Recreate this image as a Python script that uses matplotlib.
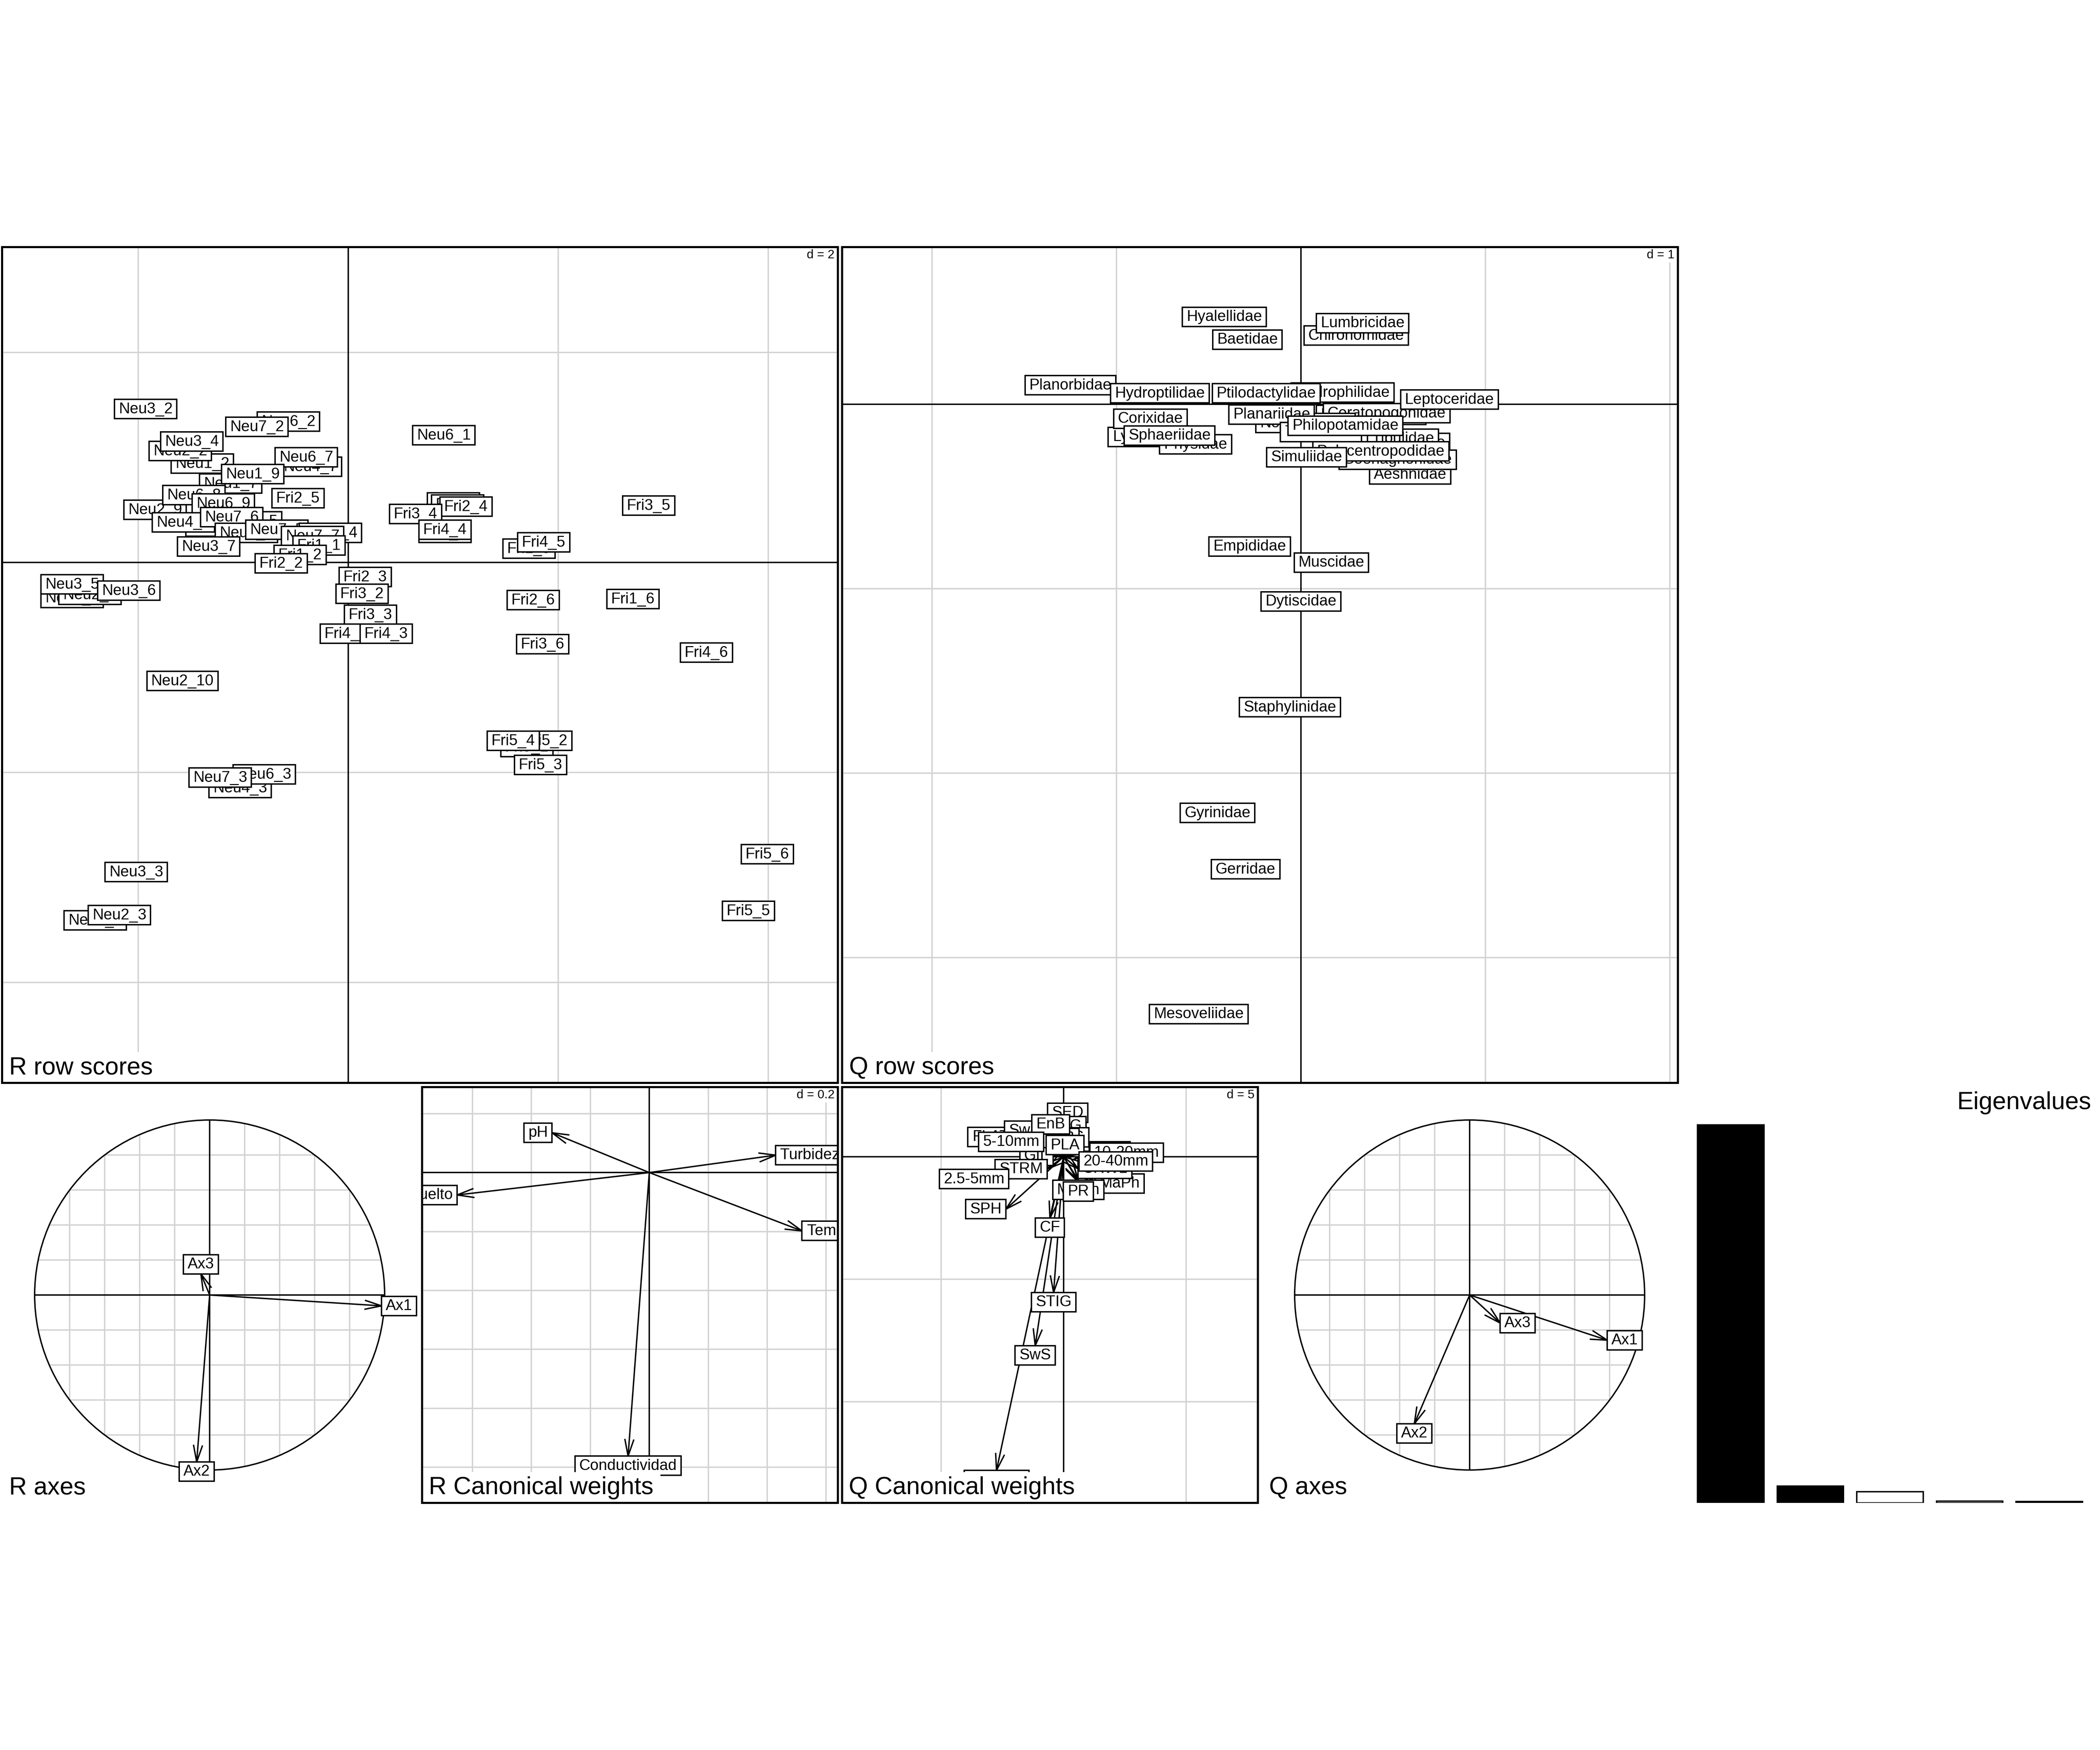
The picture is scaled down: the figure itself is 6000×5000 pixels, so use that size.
import numpy as np
import matplotlib
matplotlib.use("Agg")
import matplotlib.pyplot as plt
from matplotlib import transforms as mtrans
from matplotlib import font_manager, ft2font
from matplotlib.patches import Rectangle, Circle

plt.rcParams['font.family'] = ['Liberation Sans', 'DejaVu Sans']

# ---------------- data ----------------
# R row scores (sites)
r_labels = ["Neu6_2", "Neu7_2", "Neu3_2", "Neu1_2", "Neu2_2", "Neu3_4",
            "Neu1_7", "Neu4_7", "Neu6_7", "Neu1_9",
            "Neu2_9", "Neu6_8", "Neu6_9", "Fri2_5",
            "Neu1_5", "Neu4_6", "Neu6_5", "Neu7_6", "Neu4_5", "Neu7_5", "Neu6_4", "Neu7_7", "Neu3_7",
            "Fri1_1", "Fri1_2", "Fri2_2",
            "Neu2_6", "Neu2_5", "Neu3_5", "Neu3_6",
            "Fri2_3", "Fri3_2", "Fri3_3", "Fri4_2", "Fri4_3",
            "Neu2_10", "Neu4_3", "Neu6_3", "Neu7_3", "Neu3_3", "Neu1_3", "Neu2_3",
            "Neu6_1", "Fri1_3", "Fri1_4", "Fri2_4", "Fri3_4", "Fri3_1", "Fri4_4", "Fri3_5", "Fri1_5", "Fri4_5",
            "Fri2_6", "Fri1_6", "Fri3_6", "Fri4_6",
            "Fri5_1", "Fri5_2", "Fri5_4", "Fri5_3", "Fri5_6", "Fri5_5"]
r_x = [-0.57, -0.87, -1.93, -1.39, -1.60, -1.49,
       -1.12, -0.36, -0.40, -0.91,
       -1.84, -1.47, -1.19, -0.48,
       -1.25, -1.57, -0.93, -1.11, -0.97, -0.68, -0.17, -0.34, -1.33,
       -0.28, -0.46, -0.64,
       -2.63, -2.46, -2.63, -2.09,
       0.16, 0.13, 0.21, -0.02, 0.36,
       -1.58, -1.03, -0.80, -1.22, -2.02, -2.41, -2.18,
       0.91, 1.00, 1.04, 1.12, 0.64, 0.92, 0.92, 2.86, 1.72, 1.86,
       1.76, 2.71, 1.85, 3.41,
       1.70, 1.88, 1.57, 1.83, 3.99, 3.81]
r_y = [1.34, 1.29, 1.46, 0.94, 1.06, 1.15,
       0.75, 0.91, 1.00, 0.84,
       0.50, 0.64, 0.56, 0.61,
       0.34, 0.38, 0.39, 0.43, 0.28, 0.31, 0.28, 0.25, 0.15,
       0.16, 0.07, -0.01,
       -0.34, -0.31, -0.21, -0.27,
       -0.14, -0.30, -0.50, -0.68, -0.68,
       -1.13, -2.15, -2.02, -2.05, -2.95, -3.41, -3.36,
       1.21, 0.57, 0.55, 0.53, 0.46, 0.28, 0.31, 0.54, 0.13, 0.19,
       -0.36, -0.35, -0.78, -0.86,
       -1.76, -1.70, -1.70, -1.93, -2.78, -3.32]

# Q row scores (taxa)
q_labels = ["Hyalellidae", "Baetidae", "Chironomidae", "Lumbricidae", "Planorbidae", "Hydroptilidae",
            "Hydrophilidae", "Ptilodactylidae", "Leptohyphidae", "Ceratopogonidae", "Leptoceridae",
            "Lymnaeidae", "Physidae", "Corixidae", "Sphaeriidae",
            "Notonectidae", "Planariidae", "Tabanidae", "Elmidae", "Tipulidae", "Philopotamidae",
            "Aeshnidae", "Coenagrionidae", "Polycentropodidae", "Simuliidae",
            "Empididae", "Muscidae", "Dytiscidae", "Staphylinidae", "Gyrinidae", "Gerridae", "Mesoveliidae"]
q_x = [-0.415, -0.290, 0.300, 0.334, -1.250, -0.765,
       0.226, -0.188, 0.381, 0.465, 0.805,
       -0.795, -0.571, -0.816, -0.713,
       0.025, -0.159, 0.108, 0.632, 0.554, 0.241,
       0.592, 0.524, 0.433, 0.030,
       -0.278, 0.165, 0.000, -0.060, -0.452, -0.300, -0.554]
q_y = [0.474, 0.351, 0.372, 0.440, 0.103, 0.059,
       0.063, 0.059, -0.057, -0.049, 0.025,
       -0.177, -0.218, -0.078, -0.169,
       -0.102, -0.055, -0.150, -0.209, -0.186, -0.116,
       -0.381, -0.300, -0.256, -0.287,
       -0.771, -0.858, -1.069, -1.643, -2.216, -2.521, -3.306]

# R canonical weights (environmental variables)
rc_labels = ["pH", "Turbidez", "Temperatura", "Oxigeno_disuelto", "Conductividad"]
rc_x = [-0.330, 0.429, 0.518, -0.652, -0.072]
rc_y = [0.135, 0.059, -0.198, -0.076, -0.962]

# Q canonical weights (traits)
qc_labels = ["SHR", "GIL", "FLAT", "Sw", "SED", "TEG", "CG", "EpB", "PLA", "EnB",
             "5-10mm", "STRM", "2.5-5mm", "MaPh", "10-20mm", "CRWL", "20-40mm", "MSwn", "PR",
             "SPH", "CF", "STIG", "SwS", "<2.5mm"]
qc_x = [1.04, -0.43, -2.03, -1.19, 0.16, 0.09, 0.38, -0.14, 0.06, -0.53,
        -0.81, -0.67, -2.24, 1.29, 1.07, 0.59, 0.63, 0.60, 0.60,
        -2.36, -0.56, -0.41, -1.16, -2.74]
qc_y = [0.22, 0.04, 0.81, 1.07, 1.40, 0.86, 0.40, 0.37, 0.08, 0.93,
        0.61, -0.50, -0.91, -1.09, 0.17, -0.49, -0.19, -0.96, -1.03,
        -2.14, -2.50, -5.54, -7.71, -12.80]

# axes projections
axis_labels = ["Ax1", "Ax2", "Ax3"]
ra_x = [0.982, -0.074, -0.050]
ra_y = [-0.062, -0.954, 0.121]
qa_x = [0.786, -0.316, 0.174]
qa_y = [-0.258, -0.736, -0.160]

# eigenvalues (relative)
eigenvalues = [1.000, 0.0444, 0.0296, 0.0046, 0.0037]
eig_selected = [0, 1]

# ---------------- style ----------------
DPI = 500
FIG_W, FIG_H = 6000, 5000
BASE_PT = 35.2 * 72.0 / DPI
LAB_PT = 1.25 * BASE_PT
SUB_PT = 2.0 * BASE_PT
GRID_PT = 1.0 * BASE_PT
LW = 0.58
FRAME_LW = 0.86
GRID_COL = '#D3D3D3'
HEAD_PX = 48.0
HEAD_ANG = np.radians(15)
MIN_ARROW_PX = 2 * 0.75 * 35.2
BOX_H = 1.25
BASE_OFF = 0.27

# ---------------- font metrics ----------------
_fpath = font_manager.findfont(font_manager.FontProperties(family='Liberation Sans'))
_ft = ft2font.FT2Font(_fpath)
_ft.set_size(100, 72)
try:
    _NOHINT = ft2font.LoadFlags.NO_HINTING
except AttributeError:
    _NOHINT = ft2font.LOAD_NO_HINTING
_adv = {}


def _char_em(ch):
    if ch not in _adv:
        g = _ft.load_char(ord(ch), flags=_NOHINT)
        v = g.linearHoriAdvance / 65536.0 / 100.0
        if not (0.05 < v < 2.0):
            v = g.horiAdvance / 64.0 / 100.0
        _adv[ch] = v
    return _adv[ch]


def em_width(s):
    return sum(_char_em(c) for c in s)


fig = plt.figure(figsize=(FIG_W / DPI, FIG_H / DPI), dpi=DPI)
fig.patch.set_facecolor('white')


def make_ax(px0, py0, px1, py1, xlim, ylim, frame=True):
    ax = fig.add_axes([px0 / FIG_W, 1 - py1 / FIG_H, (px1 - px0) / FIG_W, (py1 - py0) / FIG_H])
    ax.set_xticks([])
    ax.set_yticks([])
    ax.set_autoscale_on(False)
    ax.set_xlim(*xlim)
    ax.set_ylim(*ylim)
    for sp in ax.spines.values():
        sp.set_visible(False)
    if frame:
        ax.add_patch(Rectangle((0, 0), 1, 1, transform=ax.transAxes, fill=False,
                               edgecolor='black', linewidth=FRAME_LW, clip_on=False, zorder=60))
    return ax


def pt_trans(ax, x, y, base=None):
    if base is None:
        base = ax.transData
    return (mtrans.Affine2D().scale(1 / 72.0) + fig.dpi_scale_trans
            + mtrans.ScaledTranslation(x, y, base))


def draw_label(ax, x, y, s, mode='c', z=3.0, fs=LAB_PT):
    w = em_width(' ' + s + ' ') * fs
    h = BOX_H * fs
    cx, cy = {'c': (0, 0), 'r': (w / 2, 0), 'l': (-w / 2, 0),
              'u': (0, h / 2), 'd': (0, -h / 2)}[mode]
    tr = pt_trans(ax, x, y)
    rect = Rectangle((cx - w / 2, cy - h / 2), w, h, transform=tr, facecolor='white',
                     edgecolor='black', linewidth=LW, zorder=z)
    ax.add_patch(rect)
    rect.set_clip_path(ax.patch)
    t = ax.text(cx, cy - BASE_OFF * fs, s, transform=tr, fontsize=fs, ha='center',
                va='baseline', zorder=z + 0.0005, clip_on=True)
    t.set_clip_path(ax.patch)


def corner_text(ax, s, fs, corner, z):
    w = em_width(' ' + s + ' ') * fs
    h = BOX_H * fs
    if corner == 'tr':
        base = (1, 1)
        cx, cy = -w / 2, -h / 2
    else:
        base = (0, 0)
        cx, cy = w / 2, h / 2
    tr = pt_trans(ax, base[0], base[1], ax.transAxes)
    ax.add_patch(Rectangle((cx - w / 2, cy - h / 2), w, h, transform=tr, facecolor='white',
                           edgecolor='none', zorder=z, clip_on=False))
    ax.text(cx, cy - BASE_OFF * fs, s, transform=tr, fontsize=fs, ha='center',
            va='baseline', zorder=z + 0.001)


def circ_mode(x, y):
    if x > y and x > -y:
        return 'r'
    if x > y and x <= -y:
        return 'd'
    if x <= y and x <= -y:
        return 'l'
    return 'u'


def draw_arrow(ax, x, y):
    ax.plot([0, x], [0, y], color='black', lw=LW, zorder=1.5, solid_capstyle='butt')
    p0 = ax.transData.transform((0, 0))
    p1 = ax.transData.transform((x, y))
    d = np.hypot(*(p1 - p0))
    if d > MIN_ARROW_PX:
        ang = np.arctan2(p1[1] - p0[1], p1[0] - p0[0])
        inv = ax.transData.inverted()
        b = []
        for a in (ang + np.pi - HEAD_ANG, ang + np.pi + HEAD_ANG):
            b.append(inv.transform(p1 + HEAD_PX * np.array([np.cos(a), np.sin(a)])))
        ax.plot([b[0][0], x, b[1][0]], [b[0][1], y, b[1][1]], color='black', lw=LW,
                zorder=1.5, solid_joinstyle='miter')


def grid_lines(ax, d):
    x0, x1 = ax.get_xlim()
    y0, y1 = ax.get_ylim()
    for v in np.arange(np.ceil(x0 / d) * d, x1 + 1e-9, d):
        ax.axvline(v, color=GRID_COL, lw=LW, zorder=0.5)
    for v in np.arange(np.ceil(y0 / d) * d, y1 + 1e-9, d):
        ax.axhline(v, color=GRID_COL, lw=LW, zorder=0.5)
    ax.axvline(0, color='black', lw=LW, zorder=1)
    ax.axhline(0, color='black', lw=LW, zorder=1)


def scatter_panel(ax, labels, xs, ys, d, dtxt, title):
    grid_lines(ax, d)
    corner_text(ax, dtxt, GRID_PT, 'tr', 0.8)
    for i, (s, x, y) in enumerate(zip(labels, xs, ys)):
        draw_label(ax, x, y, s, 'c', z=2 + i * 0.01)
    corner_text(ax, title, SUB_PT, 'bl', 50)


def arrow_panel(ax, labels, xs, ys, d, dtxt, title):
    grid_lines(ax, d)
    corner_text(ax, dtxt, GRID_PT, 'tr', 0.8)
    for x, y in zip(xs, ys):
        draw_arrow(ax, x, y)
    for i, (s, x, y) in enumerate(zip(labels, xs, ys)):
        draw_label(ax, x, y, s, circ_mode(x, y), z=2 + i * 0.01)
    corner_text(ax, title, SUB_PT, 'bl', 50)


def circle_panel(ax, labels, xs, ys, title):
    for c in np.arange(-1, 1.0001, 0.2):
        a = np.sqrt(max(0.0, 1 - c * c))
        ax.plot([c, c], [-a, a], color=GRID_COL, lw=LW, zorder=0.5)
        ax.plot([-a, a], [c, c], color=GRID_COL, lw=LW, zorder=0.5)
    ax.add_patch(Circle((0, 0), 1, fill=False, edgecolor='black', lw=LW, zorder=1))
    ax.plot([-1, 1], [0, 0], color='black', lw=LW, zorder=1)
    ax.plot([0, 0], [-1, 1], color='black', lw=LW, zorder=1)
    for x, y in zip(xs, ys):
        draw_arrow(ax, x, y)
    for i, (s, x, y) in enumerate(zip(labels, xs, ys)):
        draw_label(ax, x, y, s, circ_mode(x, y), z=2 + i * 0.01)
    corner_text(ax, title, SUB_PT, 'bl', 50)


# ---------------- panels ----------------
ax_r = make_ax(6, 706, 2394, 3094, (-3.297, 4.663), (-4.957, 3.003))
scatter_panel(ax_r, r_labels, r_x, r_y, 2, "d = 2", "R row scores")

ax_q = make_ax(2406, 706, 4794, 3094, (-2.488, 2.044), (-3.679, 0.852))
scatter_panel(ax_q, q_labels, q_x, q_y, 1, "d = 1", "Q row scores")

ax_ra = make_ax(6, 3106, 1194, 4294, (-1.186, 1.190), (-1.188, 1.188), frame=False)
circle_panel(ax_ra, axis_labels, ra_x, ra_y, "R axes")

ax_rc = make_ax(1206, 3106, 2394, 4294, (-0.771, 0.640), (-1.121, 0.290))
arrow_panel(ax_rc, rc_labels, rc_x, rc_y, 0.2, "d = 0.2", "R Canonical weights")

ax_qc = make_ax(2406, 3106, 3594, 4294, (-9.043, 7.929), (-14.129, 2.843))
arrow_panel(ax_qc, qc_labels, qc_x, qc_y, 5, "d = 5", "Q Canonical weights")

ax_qa = make_ax(3606, 3106, 4794, 4294, (-1.186, 1.190), (-1.188, 1.188), frame=False)
circle_panel(ax_qa, axis_labels, qa_x, qa_y, "Q axes")

ax_e = make_ax(4806, 3106, 5994, 4294, (-0.032, 6.232), (0, 1.1 * max(eigenvalues)), frame=False)
n = len(eigenvalues)
bx = [0.2 + 1.2 * i for i in range(n)]
cols = ['black' if i in eig_selected else 'white' for i in range(n)]
ax_e.bar(bx, eigenvalues, width=1.0, align='edge', color=cols, edgecolor='black',
         linewidth=LW, zorder=2)
corner_text(ax_e, "Eigenvalues", SUB_PT, 'tr', 50)

fig.savefig("out.png", dpi=DPI, facecolor='white')
